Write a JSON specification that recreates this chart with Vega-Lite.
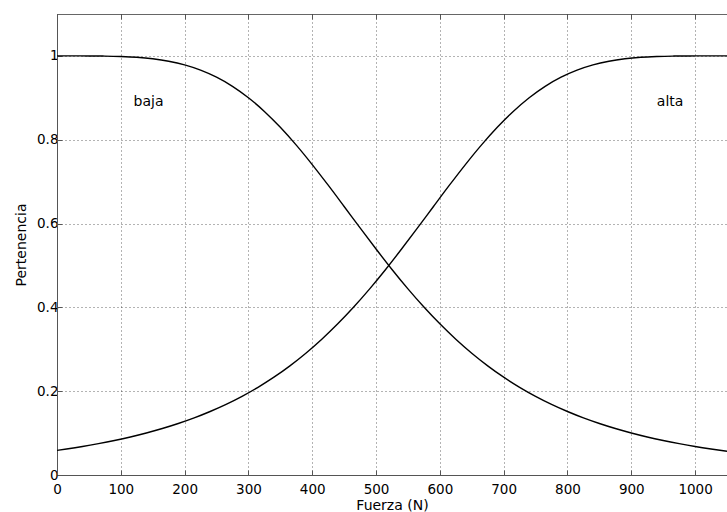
{
  "$schema": "https://vega.github.io/schema/vega-lite/v6.json",
  "width": 670,
  "height": 461,
  "autosize": {"type": "none"},
  "padding": {"left": 57, "top": 14, "right": 0, "bottom": 37},
  "background": "white",
  "config": {
    "view": {"stroke": "#666", "strokeWidth": 1},
    "font": "DejaVu Sans",
    "axis": {
      "labelFont": "DejaVu Sans",
      "titleFont": "DejaVu Sans",
      "labelFontSize": 13.5,
      "titleFontSize": 14,
      "labelColor": "#000",
      "titleColor": "#000",
      "titleFontWeight": "normal",
      "domainColor": "#555",
      "tickColor": "#555",
      "gridColor": "#000",
      "gridDash": [1, 3],
      "gridOpacity": 0.6,
      "gridWidth": 1
    }
  },
  "resolve": {"axis": {"x": "independent"}},
  "data": {
    "values": [
      {"x": 0, "y": 1.0, "s": "baja"},
      {"x": 25, "y": 1.0, "s": "baja"},
      {"x": 50, "y": 0.9999, "s": "baja"},
      {"x": 75, "y": 0.9996, "s": "baja"},
      {"x": 100, "y": 0.9986, "s": "baja"},
      {"x": 125, "y": 0.9967, "s": "baja"},
      {"x": 150, "y": 0.9931, "s": "baja"},
      {"x": 175, "y": 0.9873, "s": "baja"},
      {"x": 200, "y": 0.9786, "s": "baja"},
      {"x": 225, "y": 0.9661, "s": "baja"},
      {"x": 250, "y": 0.9493, "s": "baja"},
      {"x": 275, "y": 0.9275, "s": "baja"},
      {"x": 300, "y": 0.9003, "s": "baja"},
      {"x": 325, "y": 0.8676, "s": "baja"},
      {"x": 350, "y": 0.8297, "s": "baja"},
      {"x": 375, "y": 0.7871, "s": "baja"},
      {"x": 400, "y": 0.7407, "s": "baja"},
      {"x": 425, "y": 0.6915, "s": "baja"},
      {"x": 450, "y": 0.6407, "s": "baja"},
      {"x": 475, "y": 0.5895, "s": "baja"},
      {"x": 500, "y": 0.5392, "s": "baja"},
      {"x": 525, "y": 0.4904, "s": "baja"},
      {"x": 550, "y": 0.4441, "s": "baja"},
      {"x": 575, "y": 0.4008, "s": "baja"},
      {"x": 600, "y": 0.3607, "s": "baja"},
      {"x": 625, "y": 0.3240, "s": "baja"},
      {"x": 650, "y": 0.2906, "s": "baja"},
      {"x": 675, "y": 0.2605, "s": "baja"},
      {"x": 700, "y": 0.2334, "s": "baja"},
      {"x": 725, "y": 0.2093, "s": "baja"},
      {"x": 750, "y": 0.1877, "s": "baja"},
      {"x": 775, "y": 0.1685, "s": "baja"},
      {"x": 800, "y": 0.1515, "s": "baja"},
      {"x": 825, "y": 0.1363, "s": "baja"},
      {"x": 850, "y": 0.1229, "s": "baja"},
      {"x": 875, "y": 0.1109, "s": "baja"},
      {"x": 900, "y": 0.1003, "s": "baja"},
      {"x": 925, "y": 0.0908, "s": "baja"},
      {"x": 950, "y": 0.0824, "s": "baja"},
      {"x": 975, "y": 0.0749, "s": "baja"},
      {"x": 1000, "y": 0.0681, "s": "baja"},
      {"x": 1025, "y": 0.0621, "s": "baja"},
      {"x": 1050, "y": 0.0567, "s": "baja"},
      {"x": 0, "y": 0.0588, "s": "alta"},
      {"x": 15, "y": 0.0621, "s": "alta"},
      {"x": 40, "y": 0.0681, "s": "alta"},
      {"x": 65, "y": 0.0749, "s": "alta"},
      {"x": 90, "y": 0.0824, "s": "alta"},
      {"x": 115, "y": 0.0908, "s": "alta"},
      {"x": 140, "y": 0.1003, "s": "alta"},
      {"x": 165, "y": 0.1109, "s": "alta"},
      {"x": 190, "y": 0.1229, "s": "alta"},
      {"x": 215, "y": 0.1363, "s": "alta"},
      {"x": 240, "y": 0.1515, "s": "alta"},
      {"x": 265, "y": 0.1685, "s": "alta"},
      {"x": 290, "y": 0.1877, "s": "alta"},
      {"x": 315, "y": 0.2093, "s": "alta"},
      {"x": 340, "y": 0.2334, "s": "alta"},
      {"x": 365, "y": 0.2605, "s": "alta"},
      {"x": 390, "y": 0.2906, "s": "alta"},
      {"x": 415, "y": 0.3240, "s": "alta"},
      {"x": 440, "y": 0.3607, "s": "alta"},
      {"x": 465, "y": 0.4008, "s": "alta"},
      {"x": 490, "y": 0.4441, "s": "alta"},
      {"x": 515, "y": 0.4904, "s": "alta"},
      {"x": 540, "y": 0.5392, "s": "alta"},
      {"x": 565, "y": 0.5895, "s": "alta"},
      {"x": 590, "y": 0.6407, "s": "alta"},
      {"x": 615, "y": 0.6915, "s": "alta"},
      {"x": 640, "y": 0.7407, "s": "alta"},
      {"x": 665, "y": 0.7871, "s": "alta"},
      {"x": 690, "y": 0.8297, "s": "alta"},
      {"x": 715, "y": 0.8676, "s": "alta"},
      {"x": 740, "y": 0.9003, "s": "alta"},
      {"x": 765, "y": 0.9275, "s": "alta"},
      {"x": 790, "y": 0.9493, "s": "alta"},
      {"x": 815, "y": 0.9661, "s": "alta"},
      {"x": 840, "y": 0.9786, "s": "alta"},
      {"x": 865, "y": 0.9873, "s": "alta"},
      {"x": 890, "y": 0.9931, "s": "alta"},
      {"x": 915, "y": 0.9967, "s": "alta"},
      {"x": 940, "y": 0.9986, "s": "alta"},
      {"x": 965, "y": 0.9996, "s": "alta"},
      {"x": 990, "y": 0.9999, "s": "alta"},
      {"x": 1015, "y": 1.0, "s": "alta"},
      {"x": 1040, "y": 1.0, "s": "alta"},
      {"x": 1050, "y": 1.0, "s": "alta"}
    ]
  },
  "layer": [
    {
      "mark": {"type": "line", "interpolate": "monotone", "color": "#000", "strokeWidth": 1.4, "clip": true},
      "encoding": {
        "x": {
          "field": "x", "type": "quantitative",
          "scale": {"domain": [0, 1050], "nice": false, "zero": false},
          "axis": {
            "values": [0, 100, 200, 300, 400, 500, 600, 700, 800, 900, 1000],
            "format": "d",
            "title": "Fuerza (N)",
            "grid": true,
            "tickSize": -5,
            "labelPadding": 12,
            "titlePadding": 3,
            "labelFlush": false
          }
        },
        "y": {
          "field": "y", "type": "quantitative",
          "scale": {"domain": [0, 1.1], "nice": false, "zero": false},
          "axis": {
            "values": [0, 0.2, 0.4, 0.6, 0.8, 1],
            "format": "~g",
            "title": "Pertenencia",
            "grid": true,
            "tickSize": -5,
            "labelPadding": 4,
            "titlePadding": 8
          }
        },
        "detail": {"field": "s", "type": "nominal"},
        "strokeWidth": {
          "field": "s", "type": "nominal",
          "scale": {"domain": ["baja", "alta"], "range": [1.6, 1.1]},
          "legend": null
        }
      }
    },
    {
      "data": {"values": [{"x": 120, "y": 0.89, "t": "baja"}, {"x": 940, "y": 0.89, "t": "alta"}]},
      "mark": {"type": "text", "align": "left", "baseline": "middle", "font": "DejaVu Sans", "fontSize": 14, "color": "#000"},
      "encoding": {
        "x": {
          "field": "x", "type": "quantitative",
          "axis": {
            "orient": "top",
            "values": [0, 100, 200, 300, 400, 500, 600, 700, 800, 900, 1000],
            "labels": false,
            "domain": false,
            "grid": false,
            "title": null,
            "tickSize": -5
          }
        },
        "y": {"field": "y", "type": "quantitative"},
        "text": {"field": "t"}
      }
    }
  ]
}
